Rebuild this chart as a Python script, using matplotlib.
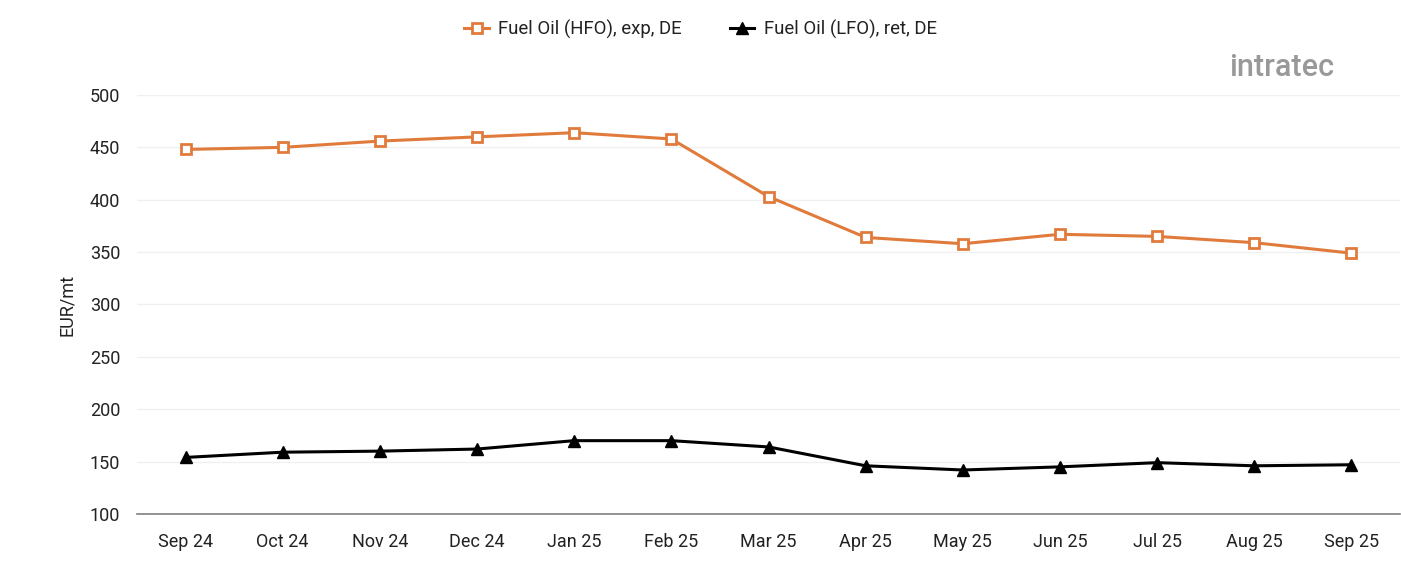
import matplotlib.pyplot as plt
import numpy as np

plt.rcParams['font.family'] = ['Roboto', 'DejaVu Sans']

months = ['Sep 24', 'Oct 24', 'Nov 24', 'Dec 24', 'Jan 25', 'Feb 25', 'Mar 25',
          'Apr 25', 'May 25', 'Jun 25', 'Jul 25', 'Aug 25', 'Sep 25']
hfo = [448, 450, 456, 460, 464, 458, 403, 364, 358, 367, 365, 359, 349]
lfo = [154, 159, 160, 162, 170, 170, 164, 146, 142, 145, 149, 146, 147]

fig = plt.figure(figsize=(14.01, 5.61), dpi=100)
ax = fig.add_axes([0.0978, 0.0838, 0.9015, 0.7469])

x = np.arange(len(months))
ax.plot(x, hfo, color='#e07b3c', lw=2.2, marker='s', ms=7, mfc='white',
        mec='#e07b3c', mew=2, label='Fuel Oil (HFO), exp, DE', zorder=3)
ax.plot(x, lfo, color='black', lw=2.2, marker='^', ms=9,
        label='Fuel Oil (LFO), ret, DE', zorder=3)

ax.set_xlim(-0.5, len(months) - 0.5)
ax.set_ylim(100, 500)
ax.set_yticks(np.arange(100, 501, 50))
ax.set_xticks(x)
ax.set_xticklabels(months)
ax.grid(axis='y', color='#f0f0f0', lw=1)
ax.set_axisbelow(True)
for s in ['top', 'right', 'left']:
    ax.spines[s].set_visible(False)
ax.spines['bottom'].set_color('#808080')
ax.spines['bottom'].set_linewidth(1.2)
ax.tick_params(axis='both', length=0, labelsize=13, colors='#222222')
ax.tick_params(axis='x', pad=14)
ax.tick_params(axis='y', pad=12)
ax.set_ylabel('EUR/mt', fontsize=13, color='#222222', labelpad=10)

fig.legend(loc='upper center', bbox_to_anchor=(0.5, 0.995), ncol=2, frameon=False,
           fontsize=13.4, handlelength=1.3, handletextpad=0.5, columnspacing=2.6,
           labelcolor='#222222')

# logo
fig.text(0.877, 0.88, 'intratec', fontsize=22, color='#999999', fontweight='medium',
         ha='left', va='center')

fig.savefig('out.png', dpi=100)
